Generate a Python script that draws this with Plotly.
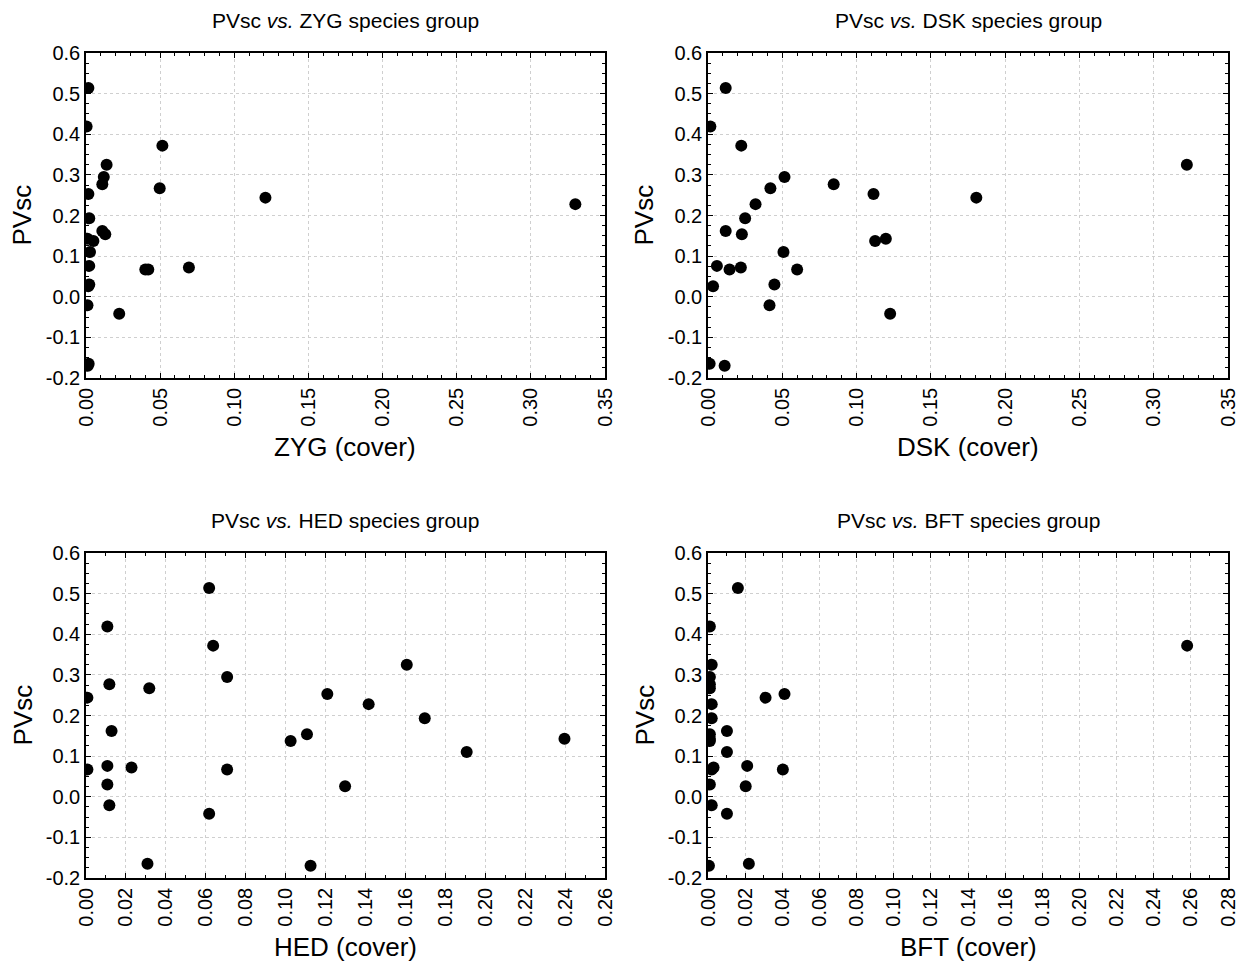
import plotly.graph_objects as go

W, H = 1247, 967

pvsc = [0.514, 0.419, 0.372, 0.325, 0.295, 0.277, 0.267, 0.253, 0.244, 0.228,
        0.193, 0.162, 0.154, 0.143, 0.137, 0.110, 0.076, 0.072, 0.067, 0.067,
        0.030, 0.026, -0.021, -0.042, -0.165, -0.170]

zyg = [0.0016, 0.0004, 0.0515, 0.0139, 0.012, 0.011, 0.0497, 0.0016, 0.121, 0.330,
       0.0022, 0.011, 0.013, 0.001, 0.005, 0.0027, 0.0022, 0.0694, 0.040, 0.042,
       0.0022, 0.0015, 0.001, 0.0224, 0.0018, 0.0012]

dsk = [0.0119, 0.0016, 0.0224, 0.3223, 0.0515, 0.0846, 0.042, 0.1114, 0.1806, 0.032,
       0.025, 0.0119, 0.0228, 0.1197, 0.1125, 0.0508, 0.006, 0.0221, 0.0145, 0.0600,
       0.0447, 0.0034, 0.0414, 0.1226, 0.0011, 0.0112]

hed = [0.0617, 0.0107, 0.0637, 0.1607, 0.0707, 0.0117, 0.0317, 0.1209, 0.0007, 0.1416,
       0.1697, 0.0128, 0.1107, 0.2397, 0.1025, 0.1907, 0.0107, 0.0228, 0.0007, 0.0707,
       0.0107, 0.1298, 0.0117, 0.0617, 0.0308, 0.1125]

bft = [0.0161, 0.001, 0.258, 0.002, 0.001, 0.001, 0.001, 0.0412, 0.031, 0.002,
       0.002, 0.0102, 0.001, 0.001, 0.001, 0.0102, 0.0211, 0.003, 0.0403, 0.002,
       0.001, 0.0203, 0.002, 0.0102, 0.022, 0.0005]

y_tick_labels = ["-0.2", "-0.1", "0.0", "0.1", "0.2", "0.3", "0.4", "0.5", "0.6"]

groups = ["ZYG", "DSK", "HED", "BFT"]
xdata = [zyg, dsk, hed, bft]
xmax = [0.35, 0.35, 0.26, 0.28]
xstep = [0.05, 0.05, 0.02, 0.02]
xminor = [0.01, 0.01, 0.01, 0.01]

# pixel boxes of plot areas: (left, right, top, bottom)
boxes = [(86, 605, 53, 378), (708, 1228, 53, 378),
         (86, 605, 553, 878), (708, 1228, 553, 878)]

FONT = "Liberation Sans, Arial, sans-serif"
fig = go.Figure()
anns = []
y_tick_vals = [float(s) for s in y_tick_labels]

for i, (g, xs) in enumerate(zip(groups, xdata)):
    n = "" if i == 0 else str(i + 1)
    L, R, T, B = boxes[i]
    fig.add_trace(go.Scatter(
        x=xs, y=pvsc, mode="markers", xaxis="x" + n, yaxis="y" + n,
        marker=dict(color="black", size=12, line=dict(width=0)),
        showlegend=False, cliponaxis=True))
    common = dict(
        showline=True, linecolor="black", linewidth=1.5, mirror="allticks",
        ticks="inside", ticklen=5, tickcolor="black", tickwidth=1,
        showgrid=True, gridcolor="#cfcfcf", griddash="dot", gridwidth=1,
        zeroline=False, automargin=False,
        tickfont=dict(family=FONT, size=20, color="black"),
    )
    fig.layout["xaxis" + n] = dict(
        common, domain=[L / W, R / W], anchor="y" + n, range=[0, xmax[i]],
        dtick=xstep[i], tick0=0, tickformat=".2f", tickangle=-90,
        minor=dict(dtick=xminor[i], ticks="inside", ticklen=3, tickcolor="black", showgrid=False))
    fig.layout["yaxis" + n] = dict(
        common, domain=[1 - B / H, 1 - T / H], anchor="x" + n, range=[-0.2, 0.6],
        tickmode="array", tickvals=y_tick_vals, ticktext=y_tick_labels,
        minor=dict(dtick=0.025, tick0=0, ticks="inside", ticklen=3, tickcolor="black", showgrid=False))
    cx = (L + R) / 2
    anns.append(dict(text=f"PVsc <i>vs.</i> {g} species group", x=cx / W, y=1 - (T - 33) / H,
                     xref="paper", yref="paper", showarrow=False, xanchor="center", yanchor="middle",
                     font=dict(family=FONT, size=21, color="black")))
    anns.append(dict(text=f"{g} (cover)", x=cx / W, y=1 - (B + 69) / H,
                     xref="paper", yref="paper", showarrow=False, xanchor="center", yanchor="middle",
                     font=dict(family=FONT, size=26, color="black")))
    anns.append(dict(text="PVsc", x=(L - 64) / W, y=1 - ((T + B) / 2) / H, textangle=-90,
                     xref="paper", yref="paper", showarrow=False, xanchor="center", yanchor="middle",
                     font=dict(family=FONT, size=26, color="black")))

fig.update_layout(width=W, height=H, margin=dict(l=0, r=0, t=0, b=0),
                  paper_bgcolor="white", plot_bgcolor="white", annotations=anns)
fig.write_html("out.html")
